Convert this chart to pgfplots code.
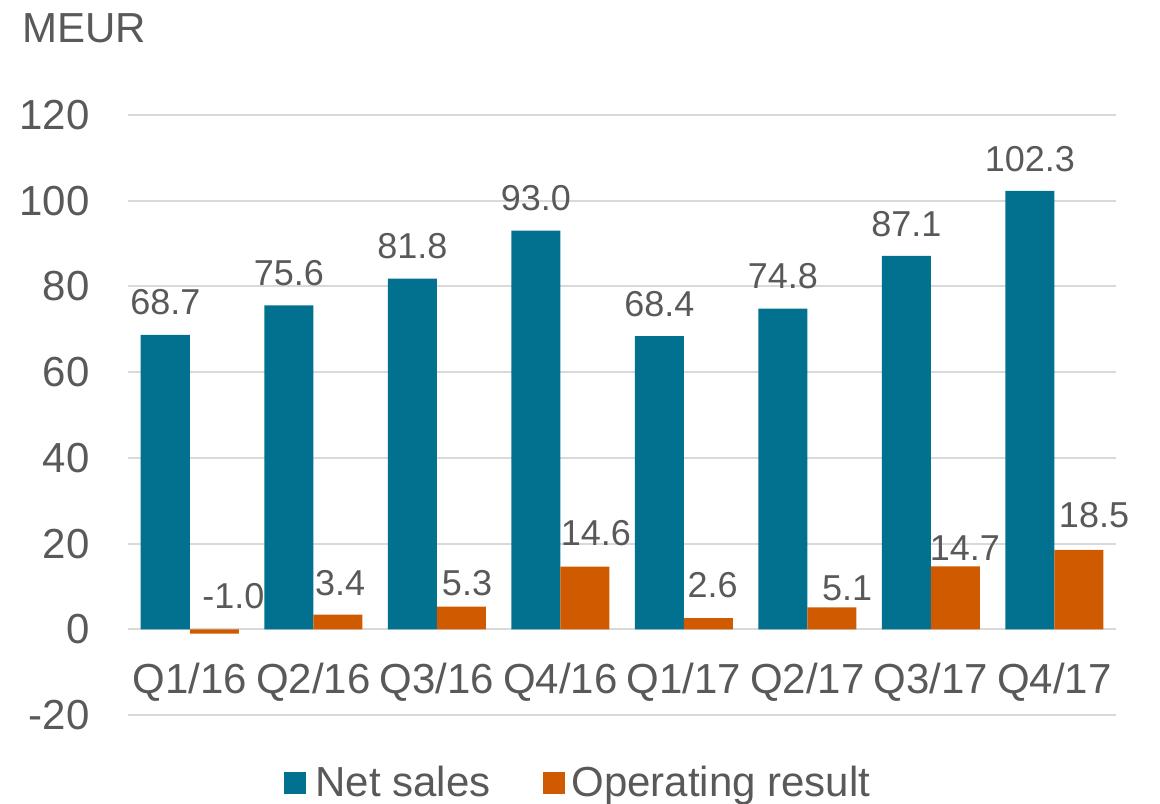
\documentclass[border=0pt]{standalone}
\usepackage{fontspec}
\setmainfont{Liberation Sans}
\usepackage{pgfplots}
\pgfplotsset{compat=1.18}
\definecolor{nsteal}{RGB}{2,112,143}
\definecolor{oporange}{RGB}{208,90,0}
\definecolor{txtgray}{RGB}{89,89,89}
\definecolor{gridgray}{RGB}{217,217,217}
\begin{document}
\begin{tikzpicture}
\path[use as bounding box] (0,0) rectangle (580bp,402bp);
\node[anchor=base west, inner sep=0pt, text=txtgray, font=\fontsize{21bp}{25bp}\selectfont] at (11bp,380.5bp) {MEUR};
\begin{axis}[
  at={(64bp,44.5bp)}, anchor=south west,
  scale only axis, width=494bp, height=300bp,
  xmin=-0.5, xmax=7.5, ymin=-20, ymax=120,
  xtick={0,...,7},
  xticklabels={Q1/16,Q2/16,Q3/16,Q4/16,Q1/17,Q2/17,Q3/17,Q4/17},
  ytick={-20,0,20,40,60,80,100,120},
  yticklabels={-20,0,20,40,60,80,100,120},
  ymajorgrids, major grid style={gridgray, line width=1bp},
  axis line style={draw=none}, major tick length=0pt,
  tick label style={text=txtgray, font=\fontsize{21bp}{25bp}\selectfont, inner sep=0pt},
  yticklabel style={anchor=east, xshift=-19bp},
  xticklabel style={anchor=base, yshift=11bp},
  clip=false,
]
\addplot[ybar, bar width=24.5bp, bar shift=-12.25bp, fill=nsteal, draw=none, forget plot]
  coordinates {(0,68.7) (1,75.6) (2,81.8) (3,93.0) (4,68.4) (5,74.8) (6,87.1) (7,102.3)};
\addplot[ybar, bar width=24.5bp, bar shift=12.25bp, fill=oporange, draw=none, forget plot]
  coordinates {(0,-1.0) (1,3.4) (2,5.3) (3,14.6) (4,2.6) (5,5.1) (6,14.7) (7,18.5)};
% data labels
\addplot[draw=none, mark=none, forget plot, nodes near coords, point meta=explicit symbolic,
  every node near coord/.style={anchor=base, inner sep=0pt, text=txtgray, font=\fontsize{18bp}{22bp}\selectfont}]
  coordinates {(-0.198,73.37) [68.7] (0.802,80.27) [75.6] (1.802,86.47) [81.8] (2.802,97.6) [93.0]
               (3.802,73.07) [68.4] (4.802,79.47) [74.8] (5.802,91.7) [87.1] (6.802,106.8) [102.3]};
\addplot[draw=none, mark=none, forget plot, nodes near coords, point meta=explicit symbolic,
  every node near coord/.style={anchor=base, inner sep=0pt, text=txtgray, font=\fontsize{18bp}{22bp}\selectfont}]
  coordinates {(0.354,4.9) [-1.0] (1.217,7.93) [3.4] (2.245,7.93) [5.3] (3.289,19.6) [14.6]
               (4.233,7.47) [2.6] (5.322,6.77) [5.1] (6.277,16.1) [14.7] (7.322,23.8) [18.5]};
\end{axis}
% legend
\fill[nsteal] (142bp,5bp) rectangle (153bp,16bp);
\node[anchor=base west, inner sep=0pt, text=txtgray, font=\fontsize{21bp}{25bp}\selectfont] at (157.5bp,3.8bp) {Net sales};
\fill[oporange] (271.5bp,5bp) rectangle (282.5bp,16bp);
\node[anchor=base west, inner sep=0pt, text=txtgray, font=\fontsize{21bp}{25bp}\selectfont] at (285.5bp,3.8bp) {Operating result};
\end{tikzpicture}
\end{document}
